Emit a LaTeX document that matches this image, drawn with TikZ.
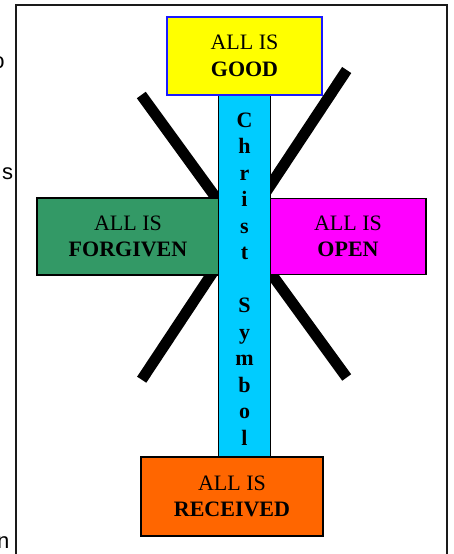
\documentclass[tikz,border=0pt]{standalone}
\usepackage{fontspec}
\setmainfont{Liberation Serif}
\newfontfamily\arialfont{Liberation Sans}
\definecolor{cyanbar}{HTML}{00CCFF}
\definecolor{seagreen}{HTML}{339966}
\definecolor{magentabox}{HTML}{FF00FF}
\definecolor{orangebox}{HTML}{FF6600}
\definecolor{yellowbox}{HTML}{FFFF00}
\definecolor{blueborder}{HTML}{1A1AFF}
\definecolor{framegray}{HTML}{1A1A1A}
\begin{document}
\begin{tikzpicture}[x=1pt,y=-1pt,
  box/.style={draw=black, line width=1.5pt, inner sep=0pt, align=center,
    font=\fontsize{22}{26.5}\selectfont, text=black},
  diag/.style={line width=11pt, line cap=butt, draw=black},
  letter/.style={font=\fontsize{22}{26.5}\selectfont\bfseries, anchor=base, inner sep=0pt, text=black},
  stray/.style={font=\arialfont\fontsize{22}{26}\selectfont, anchor=base east, inner sep=0pt, text=black},
  framestyle/.style={draw=framegray, line width=1.8pt}]
\useasboundingbox (0,0) rectangle (453,554);
% outer frame
\coordinate (f1) at (16,556);
\coordinate (f2) at (16,5);
\coordinate (f3) at (447,5);
\coordinate (f4) at (447,556);
\draw[framestyle] (f1) -- (f2) -- (f3) -- (f4);
% clipped text fragments at the left edge
\node[stray] (s1) at (4.7,68) {o};
\node[stray] (s2) at (13.4,179) {s};
\node[stray] (s3) at (9.5,548) {n};
% diagonal bars
\coordinate (a1) at (141.3,95);
\coordinate (a2) at (346.7,377.5);
\coordinate (b1) at (346.7,70);
\coordinate (b2) at (141.7,379.7);
\draw[diag] (a1) -- (a2);
\draw[diag] (b1) -- (b2);
% side boxes
\node[box, fill=seagreen, minimum width=182pt, minimum height=77pt] (forgiven) at (128,236.5)
  {ALL IS\\\textbf{FORGIVEN}};
\node[box, fill=magentabox, minimum width=156pt, minimum height=76pt] (open) at (348,236.5)
  {ALL IS\\\textbf{OPEN}};
% vertical bar
\node[box, fill=cyanbar, minimum width=52pt, minimum height=362pt] (bar) at (244.5,276) {};
\foreach \ch [count=\i from 0] in {C,h,r,i,s,t}
  \node[letter] (ca\i) at (244.5,{127+26.5*\i}) {\ch};
\foreach \ch [count=\i from 7] in {S,y,m,b,o,l}
  \node[letter] (cb\i) at (244.5,{127+26.5*\i}) {\ch};
% top and bottom boxes
\node[box, draw=blueborder, fill=yellowbox, line width=1.8pt, minimum width=155pt, minimum height=78pt] (good) at (244.5,56)
  {ALL IS\\\textbf{GOOD}};
\node[box, fill=orangebox, minimum width=182pt, minimum height=79pt] (received) at (232,496.5)
  {ALL IS\\\textbf{RECEIVED}};
\end{tikzpicture}
\end{document}
